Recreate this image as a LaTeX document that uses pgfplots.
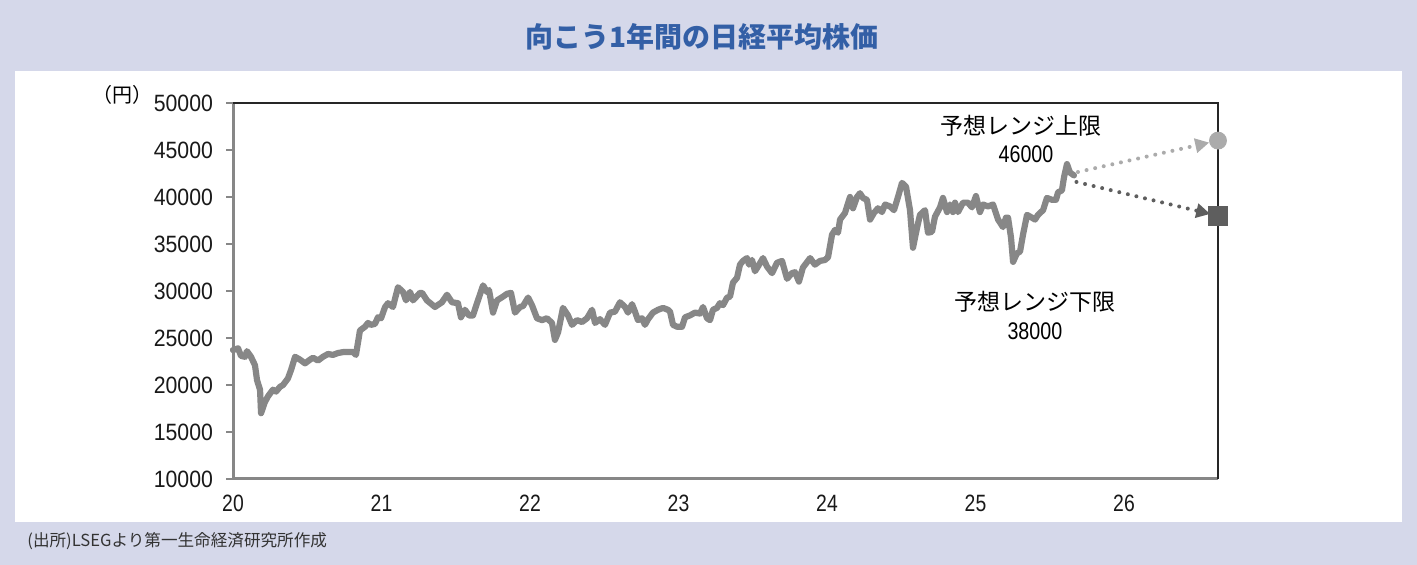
\documentclass[border=0pt]{standalone}
\usepackage{fontspec}
\setmainfont{Liberation Sans}
\newfontfamily\numfont[FakeStretch=0.9]{Liberation Sans}
\newfontfamily\numfontx[FakeStretch=0.82]{Liberation Sans}
\newfontfamily\jpfont{Noto Sans CJK JP}
\usepackage{pgfplots}
\pgfplotsset{compat=1.18}
\usetikzlibrary{arrows.meta}
\definecolor{bgc}{HTML}{D5D8EA}
\definecolor{titlec}{HTML}{335FA6}
\definecolor{linec}{HTML}{878787}
\definecolor{upc}{HTML}{ABABAB}
\definecolor{lowc}{HTML}{5E5E5E}
\begin{document}
\begin{tikzpicture}
\useasboundingbox (0,0) rectangle (708.5pt,282.5pt);
\fill[bgc] (0,0) rectangle (708.5pt,282.5pt);
\fill[white] (7.5pt,21.5pt) rectangle (701pt,247pt);
\node[font=\jpfont\bfseries\fontsize{14}{16}\selectfont, text=titlec] at (351pt,264pt) {向こう1年間の日経平均株価};
\node[font=\jpfont\fontsize{8.3}{10}\selectfont, text=black!80, anchor=west, inner sep=0] at (13.5pt,12pt) {(出所)LSEGより第一生命経済研究所作成};
\node[font=\jpfont\fontsize{10}{12}\selectfont, inner sep=0] at (61pt,235pt) {（円）};
\begin{axis}[
  at={(116.5pt,43pt)}, anchor=south west,
  scale only axis, width=492.5pt, height=188pt,
  xmin=20, xmax=26.633, ymin=10000, ymax=50000,
  axis lines=left, axis line style={-, draw=linec, line width=1.5pt},
  clip=false,
  ytick={10000,15000,20000,25000,30000,35000,40000,45000,50000},
  yticklabels={10000,15000,20000,25000,30000,35000,40000,45000,50000},
  xtick={20,21,22,23,24,25,26},
  xticklabels={20,21,22,23,24,25,26},
  scaled y ticks=false,
  tick align=outside, major tick length=3.5pt,
  ytick style={draw=linec, line width=1pt},
  xtick style={draw=none},
  yticklabel style={font=\numfont\fontsize{11.8}{12}\selectfont, text=black!90, xshift=-3pt},
  xticklabel style={font=\numfontx\fontsize{11.8}{12}\selectfont, text=black!90, yshift=-1pt},
]
\addplot[linec, line width=3.1pt, line join=round, line cap=round] table[row sep=\\] {
x y\\
20.000 23720\\ 20.034 23900\\ 20.054 23100\\ 20.081 23000\\ 20.094 23600\\ 20.121 23000\\
20.148 22100\\ 20.162 20500\\ 20.182 19500\\ 20.189 17000\\ 20.215 18200\\ 20.236 18800\\
20.269 19500\\ 20.290 19300\\ 20.316 19800\\ 20.337 20000\\ 20.370 20700\\ 20.391 21600\\
20.418 23000\\ 20.451 22700\\ 20.485 22300\\ 20.519 22700\\ 20.539 22900\\ 20.572 22600\\
20.606 23000\\ 20.640 23300\\ 20.673 23200\\ 20.707 23400\\ 20.741 23500\\ 20.774 23500\\
20.808 23500\\ 20.828 23200\\ 20.855 25800\\ 20.889 26200\\ 20.909 26600\\ 20.929 26400\\
20.956 26500\\ 20.976 27200\\ 20.997 27100\\ 21.024 28300\\ 21.044 28700\\ 21.077 28300\\
21.111 30400\\ 21.145 29900\\ 21.165 29000\\ 21.192 29900\\ 21.212 29000\\ 21.259 29800\\
21.273 29800\\ 21.306 29000\\ 21.360 28300\\ 21.407 28800\\ 21.441 29600\\ 21.475 28800\\
21.515 28700\\ 21.535 27200\\ 21.562 28000\\ 21.589 27400\\ 21.616 27400\\ 21.643 28700\\
21.684 30600\\ 21.710 29900\\ 21.724 30100\\ 21.751 27700\\ 21.778 29000\\ 21.818 29400\\
21.845 29700\\ 21.872 29800\\ 21.899 27700\\ 21.933 28300\\ 21.953 28400\\ 21.987 29300\\
22.013 28500\\ 22.047 27100\\ 22.081 26900\\ 22.114 27100\\ 22.148 26600\\ 22.168 24800\\
22.189 25600\\ 22.222 28200\\ 22.256 27400\\ 22.283 26400\\ 22.316 26900\\ 22.350 26700\\
22.384 27100\\ 22.418 28000\\ 22.438 26600\\ 22.471 27000\\ 22.505 26400\\ 22.539 27700\\
22.572 27800\\ 22.606 28800\\ 22.640 28300\\ 22.660 27700\\ 22.687 28600\\ 22.707 27800\\
22.727 26900\\ 22.754 27100\\ 22.774 26400\\ 22.795 27000\\ 22.828 27700\\ 22.862 28000\\
22.896 28200\\ 22.929 28000\\ 22.943 27800\\ 22.963 26400\\ 22.990 26200\\ 23.024 26200\\
23.044 27200\\ 23.077 27400\\ 23.111 27700\\ 23.145 27600\\ 23.165 28300\\ 23.192 27100\\
23.212 26900\\ 23.232 28000\\ 23.259 28200\\ 23.279 28700\\ 23.300 28500\\ 23.327 29300\\
23.347 29400\\ 23.367 30900\\ 23.394 31400\\ 23.414 32800\\ 23.434 33200\\ 23.461 33500\\
23.475 32800\\ 23.495 33300\\ 23.515 32100\\ 23.535 32600\\ 23.569 33500\\ 23.596 32600\\
23.630 31900\\ 23.663 33000\\ 23.697 33200\\ 23.731 31300\\ 23.764 31900\\ 23.785 32000\\
23.811 31000\\ 23.838 32500\\ 23.872 33200\\ 23.886 33500\\ 23.919 32800\\ 23.953 33200\\
23.987 33300\\ 24.007 33600\\ 24.034 36000\\ 24.054 36500\\ 24.074 36200\\ 24.088 37600\\
24.121 38300\\ 24.155 40000\\ 24.175 38800\\ 24.202 40000\\ 24.222 40400\\ 24.242 39900\\
24.269 39700\\ 24.290 37600\\ 24.316 38300\\ 24.343 38800\\ 24.370 38400\\ 24.391 39200\\
24.424 39000\\ 24.451 38600\\ 24.478 40000\\ 24.505 41500\\ 24.532 41100\\ 24.559 38600\\
24.579 34600\\ 24.606 36700\\ 24.626 38100\\ 24.660 38600\\ 24.680 36200\\ 24.707 36300\\
24.727 37900\\ 24.761 38900\\ 24.781 39900\\ 24.808 38400\\ 24.828 39200\\ 24.848 38400\\
24.862 39400\\ 24.882 38400\\ 24.916 39400\\ 24.949 39400\\ 24.976 38900\\ 25.003 40100\\
25.030 38400\\ 25.051 39200\\ 25.084 39000\\ 25.118 39200\\ 25.152 37600\\ 25.185 36800\\
25.205 37800\\ 25.219 37800\\ 25.239 35700\\ 25.253 33100\\ 25.279 34000\\ 25.300 34200\\
25.320 36000\\ 25.347 38100\\ 25.380 37800\\ 25.401 37600\\ 25.421 38100\\ 25.455 38600\\
25.481 39900\\ 25.515 39700\\ 25.542 39700\\ 25.556 40500\\ 25.582 40700\\ 25.596 42100\\
25.616 43500\\ 25.636 42600\\ 25.663 42300\\
};
\draw[black!85, line width=0.75pt] (rel axis cs:0,1) -- (rel axis cs:1,1) -- (rel axis cs:1,0);
\addplot[upc, line width=2pt, line cap=round, dash pattern=on 0pt off 4.4pt, shorten >=4.5pt, -{Triangle[length=7pt,width=7pt]}] coordinates {(25.69,42660) (26.633,46000)};
\addplot[lowc, line width=2pt, line cap=round, dash pattern=on 0pt off 4.4pt, shorten >=4pt, -{Triangle[length=7pt,width=7pt]}] coordinates {(25.68,41600) (26.633,38000)};
\addplot[only marks, mark=*, mark size=4.25pt, mark options={draw=upc, fill=upc}] coordinates {(26.633,46000)};
\addplot[only marks, mark=square*, mark size=4.75pt, mark options={draw=lowc, fill=lowc}] coordinates {(26.633,38000)};
\node[font=\jpfont\fontsize{11.5}{12}\selectfont, inner sep=0] at (axis cs:25.306,47560) {予想レンジ上限};
\node[font=\numfontx\fontsize{12}{12}\selectfont, inner sep=0] at (axis cs:25.34,44580) {46000};
\node[font=\jpfont\fontsize{11.5}{12}\selectfont, inner sep=0] at (axis cs:25.40,28830) {予想レンジ下限};
\node[font=\numfontx\fontsize{12}{12}\selectfont, inner sep=0] at (axis cs:25.40,25750) {38000};
\end{axis}
\end{tikzpicture}
\end{document}
